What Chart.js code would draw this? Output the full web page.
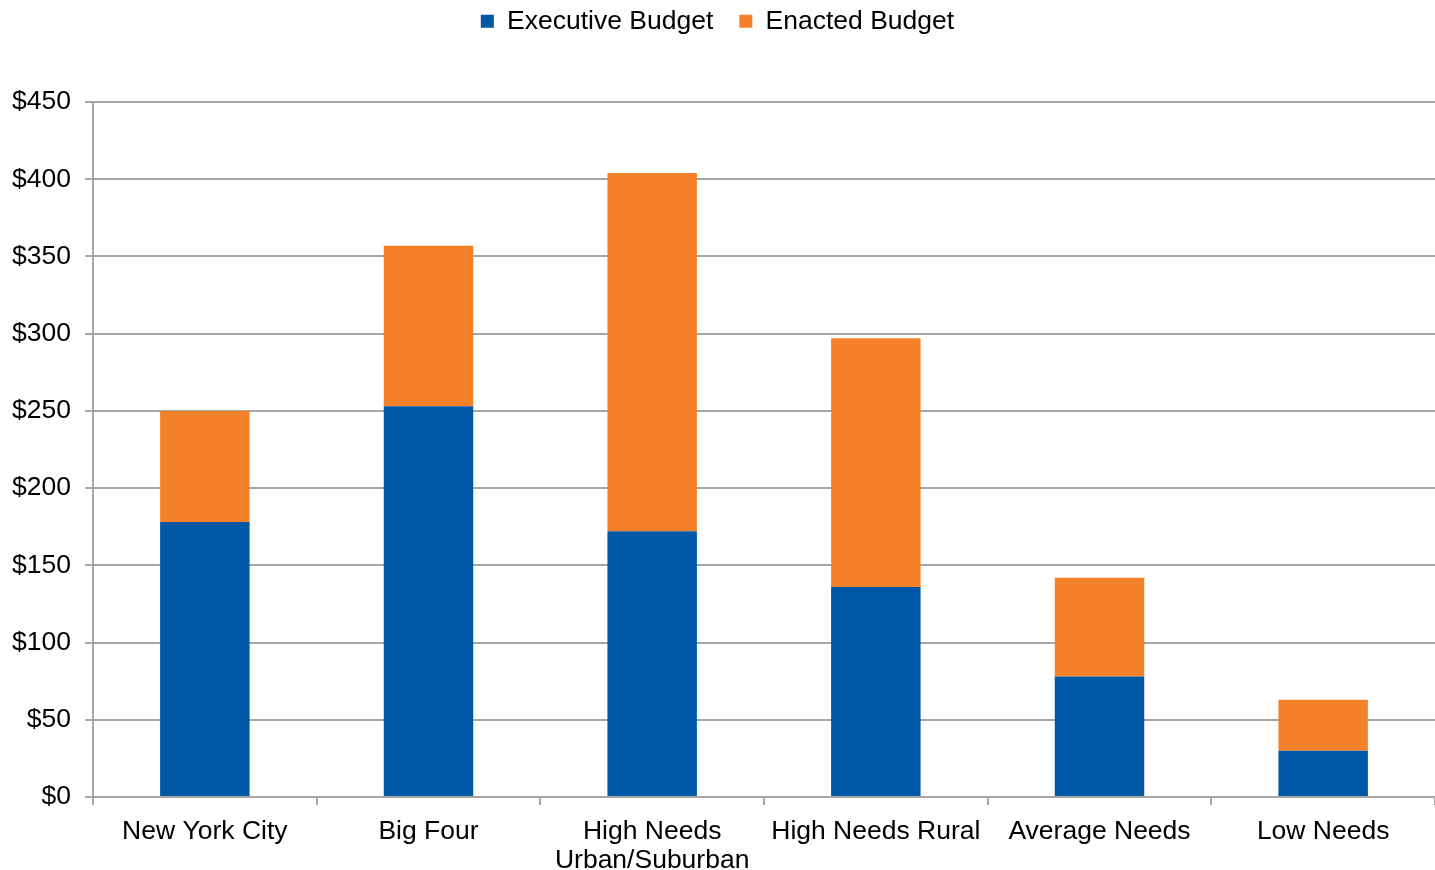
<!DOCTYPE html>
<html>
<head>
<meta charset="utf-8">
<script src="https://cdn.jsdelivr.net/npm/chart.js@4/dist/chart.umd.min.js"></script>
<style>
  body { margin: 0; background: #fff; }
  #wrap { width: 1435px; height: 870px; position: relative; }
</style>
</head>
<body>
<div id="wrap"><canvas id="chartContainer"></canvas></div>
<script>
// school need categories
var categories = [
  "New York City",
  "Big Four",
  ["High Needs", "Urban/Suburban"],
  "High Needs Rural",
  "Average Needs",
  "Low Needs"
];
// $ millions, executive proposal and the extra added in the enacted budget
var executiveBudget = [178, 253, 172, 136, 78, 30];
var enactedBudget = [72, 104, 232, 161, 64, 33];
var yTicks = [0, 50, 100, 150, 200, 250, 300, 350, 400, 450];

var gridColor = "#a6a6a6";
var fontFamily = "'Liberation Sans', Arial, sans-serif";
var font = { family: fontFamily, size: 26.5 };

var ctx = document.getElementById("chartContainer").getContext("2d");
var myChart = new Chart(ctx, {
  type: "bar",
  data: {
    labels: categories,
    datasets: [{
      label: "Executive Budget",
      data: executiveBudget,
      backgroundColor: "#0057a6"
    }, {
      label: "Enacted Budget",
      data: enactedBudget,
      backgroundColor: "#f5822a"
    }]
  },
  options: {
    responsive: true,
    maintainAspectRatio: false,
    animation: false,
    layout: { padding: { top: -18, left: 0, right: 0, bottom: 0 } },
    datasets: { bar: { barPercentage: 0.4, categoryPercentage: 1 } },
    plugins: {
      tooltip: { enabled: false },
      legend: {
        position: "top",
        labels: {
          color: "#000",
          font: font,
          boxWidth: 13,
          boxHeight: 13,
          padding: 26
        }
      }
    },
    scales: {
      x: {
        stacked: true,
        grid: {
          drawOnChartArea: false,
          drawTicks: true,
          tickLength: 8,
          color: gridColor,
          lineWidth: 2
        },
        border: { color: gridColor, width: 2 },
        ticks: {
          color: "#000",
          font: { family: fontFamily, size: 26.5, lineHeight: 1.1 },
          maxRotation: 0,
          autoSkip: false,
          padding: 12
        },
        afterFit: function(scale) { scale.height = 73; }
      },
      y: {
        stacked: true,
        min: 0,
        max: 450,
        afterBuildTicks: function(scale) {
          scale.ticks = yTicks.map(function(v) { return { value: v }; });
        },
        grid: { color: gridColor, lineWidth: 2, tickLength: 8 },
        border: { color: gridColor, width: 2 },
        ticks: {
          color: "#000",
          font: font,
          padding: 14,
          callback: function(v) { return "$" + v; }
        },
        afterFit: function(scale) { scale.width = 93; }
      }
    }
  },
  plugins: [{
    // leave a gap between the legend and the plot area
    id: "legendGap",
    beforeInit: function(chart) {
      var fit = chart.legend.fit;
      chart.legend.fit = function() {
        fit.bind(chart.legend)();
        this.height = 120;
      };
    }
  }]
});
</script>
</body>
</html>
